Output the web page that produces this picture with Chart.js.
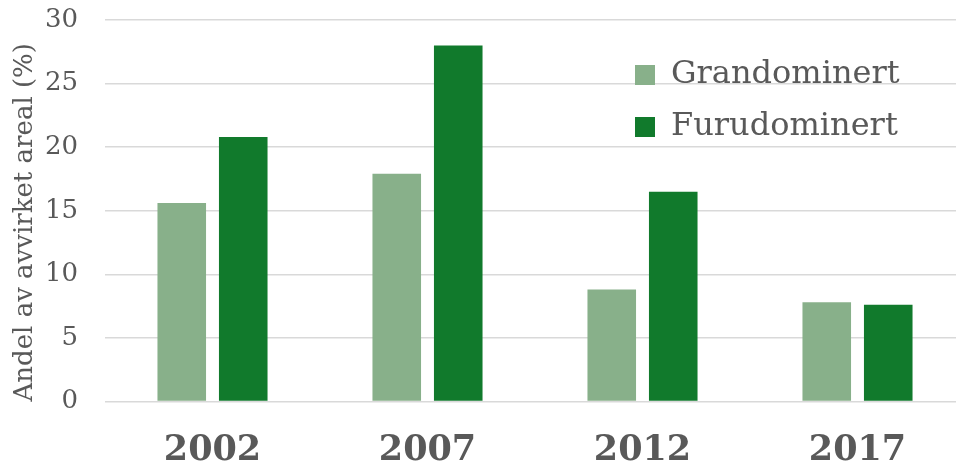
<!DOCTYPE html>
<html>
<head>
<meta charset="utf-8">
<script src="https://cdn.jsdelivr.net/npm/chart.js@4"></script>
<style>
    html, body { margin: 0; padding: 0; background: #fff; overflow: hidden; }
    #wrap { width: 970px; height: 466px; }
</style>
</head>
<body>
<div id="wrap"><canvas id="bar-chart"></canvas></div>
<script>
var years = ['2002', '2007', '2012', '2017']
var granValues = [15.6, 17.9, 8.8, 7.8]
var furuValues = [20.8, 28.0, 16.5, 7.6]
var seriesNames = ['Grandominert', 'Furudominert']
var yTicks = [0, 5, 10, 15, 20, 25, 30]

var textColor = '#595959'
var serif = 'DejaVu Serif'

// move the legend into the upper right of the plot
var legendMover = {
    id: 'legendMover',
    afterLayout: function (chart) {
        var lg = chart.legend
        var w = lg.right - lg.left
        lg.left = 615
        lg.right = 615 + w
        lg.top = 39
        lg.bottom = 39 + 200
    }
}

function createGraph() {
    var ctx = document.getElementById('bar-chart').getContext('2d')
    var barChart = new Chart(ctx, {
        type: 'bar',
        data: {
            labels: years,
            datasets: [{
                label: seriesNames[0],
                data: granValues,
                backgroundColor: '#88b08a',
                borderWidth: 0
            }, {
                label: seriesNames[1],
                data: furuValues,
                backgroundColor: '#117a2c',
                borderWidth: 0
            }]
        },
        options: {
            responsive: true,
            maintainAspectRatio: false,
            animation: false,
            layout: {
                padding: { left: 10, top: 20, right: 5, bottom: 0 }
            },
            datasets: {
                bar: {
                    categoryPercentage: 0.572,
                    barPercentage: 0.79
                }
            },
            plugins: {
                tooltip: { enabled: false },
                legend: {
                    position: 'chartArea',
                    align: 'start',
                    labels: {
                        boxWidth: 20,
                        boxHeight: 20,
                        padding: 20,
                        color: textColor,
                        font: { family: serif, size: 32 }
                    }
                }
            },
            scales: {
                x: {
                    grid: { display: false, drawTicks: false },
                    border: { display: false },
                    ticks: {
                        color: textColor,
                        padding: 28,
                        font: { family: serif, size: 35, weight: 'bold' }
                    },
                    afterFit: function (scale) {
                        scale.height = 64.5
                    }
                },
                y: {
                    min: 0,
                    max: 30,
                    afterBuildTicks: function (scale) {
                        scale.ticks = yTicks.map(function (v) { return { value: v } })
                    },
                    grid: { color: '#d9d9d9', lineWidth: 1.5, drawTicks: false },
                    border: { display: false },
                    ticks: {
                        color: textColor,
                        padding: 27,
                        font: { family: serif, size: 26 }
                    },
                    title: {
                        display: true,
                        text: 'Andel av avvirket areal (%)',
                        align: 'start',
                        color: textColor,
                        padding: { top: 0, bottom: 0 },
                        font: { family: serif, size: 26 }
                    },
                    afterFit: function (scale) {
                        scale.width = 95
                        // tick padding should not push the plot down
                        scale.paddingTop = 16
                        scale.paddingBottom = 16
                    }
                }
            }
        },
        plugins: [legendMover]
    })
}

createGraph()
</script>
</body>
</html>
